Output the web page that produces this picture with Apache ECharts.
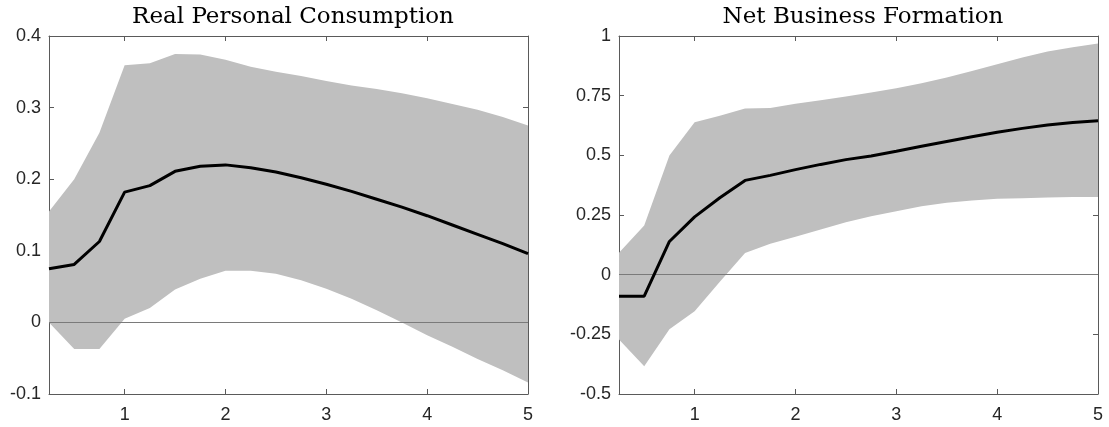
<!DOCTYPE html>
<html>
<head>
<meta charset="utf-8">
<script src="https://cdn.jsdelivr.net/npm/echarts@6/dist/echarts.min.js"></script>
<style>
  html, body { margin: 0; padding: 0; background: #fff; }
  #main { width: 1109px; height: 427px; }
</style>
</head>
<body>
<div id="main"></div>
<script>
// horizon in years (quarterly steps)
var horizon = [0.25, 0.5, 0.75, 1, 1.25, 1.5, 1.75, 2, 2.25, 2.5, 2.75, 3, 3.25, 3.5, 3.75, 4, 4.25, 4.5, 4.75, 5];
var xTicks = [1, 2, 3, 4, 5];

// Real Personal Consumption
var pceMean  = [0.075, 0.081, 0.113, 0.182, 0.191, 0.211, 0.218, 0.220, 0.216, 0.210, 0.202, 0.193, 0.183, 0.172, 0.161, 0.149, 0.136, 0.123, 0.110, 0.096];
var pceUpper = [0.155, 0.200, 0.265, 0.359, 0.362, 0.375, 0.374, 0.367, 0.357, 0.350, 0.344, 0.337, 0.331, 0.326, 0.320, 0.313, 0.305, 0.297, 0.287, 0.275];
var pceLower = [0.000, -0.037, -0.037, 0.005, 0.020, 0.046, 0.061, 0.072, 0.072, 0.068, 0.059, 0.047, 0.033, 0.017, 0.000, -0.018, -0.034, -0.051, -0.067, -0.084];

// Net Business Formation
var nbfMean  = [-0.090, -0.090, 0.139, 0.242, 0.322, 0.395, 0.416, 0.440, 0.462, 0.482, 0.497, 0.517, 0.538, 0.558, 0.578, 0.597, 0.613, 0.627, 0.638, 0.645];
var nbfUpper = [0.092, 0.206, 0.499, 0.639, 0.666, 0.696, 0.698, 0.716, 0.731, 0.747, 0.763, 0.781, 0.802, 0.826, 0.853, 0.882, 0.910, 0.935, 0.953, 0.969];
var nbfLower = [-0.272, -0.384, -0.229, -0.153, -0.030, 0.091, 0.130, 0.159, 0.189, 0.220, 0.245, 0.266, 0.287, 0.301, 0.311, 0.318, 0.320, 0.323, 0.325, 0.325];

var axisColor = '#5a5a5a';
var labelFont = { color: '#262626', fontSize: 18, fontFamily: 'Liberation Sans, Arial, sans-serif' };

function pairs(ys) {
    var out = [];
    for (var i = 0; i < horizon.length; i++) out.push([horizon[i], ys[i]]);
    return out;
}
function triples(lo, hi) {
    var out = [];
    for (var i = 0; i < horizon.length; i++) out.push([horizon[i], lo[i], hi[i]]);
    return out;
}

function xAxisFor(grid, pos) {
    return {
        type: 'value', gridIndex: grid, position: pos, min: 0.25, max: 5,
        axisLine: { show: true, onZero: false, lineStyle: { color: axisColor, width: 1 } },
        axisTick: { show: true, inside: true, length: 5, customValues: xTicks, lineStyle: { color: axisColor } },
        axisLabel: pos == 'bottom'
            ? { show: true, customValues: xTicks, margin: 12, color: labelFont.color, fontSize: labelFont.fontSize, fontFamily: labelFont.fontFamily }
            : { show: false },
        splitLine: { show: false }
    };
}
function yAxisFor(grid, pos, min, max, step) {
    return {
        type: 'value', gridIndex: grid, position: pos, min: min, max: max, interval: step,
        axisLine: { show: true, onZero: false, lineStyle: { color: axisColor, width: 1 } },
        axisTick: { show: true, inside: true, length: 5, lineStyle: { color: axisColor } },
        axisLabel: pos == 'left'
            ? { show: true, margin: 8, color: labelFont.color, fontSize: labelFont.fontSize, fontFamily: labelFont.fontFamily,
                formatter: function (v) { return String(+v.toFixed(2)); } }
            : { show: false },
        splitLine: { show: false }
    };
}

// shaded band: one polygon (upper edge then lower edge back) built with api.coord
function bandSeries(ax, lo, hi) {
    return {
        type: 'custom', xAxisIndex: ax, yAxisIndex: ax, data: triples(lo, hi),
        encode: { x: 0, y: [1, 2] }, silent: true, z: 2, clip: true,
        renderItem: function (params, api) {
            if (params.dataIndex !== 0) return null;
            var pts = [];
            for (var i = 0; i < horizon.length; i++) pts.push(api.coord([horizon[i], hi[i]]));
            for (var j = horizon.length - 1; j >= 0; j--) pts.push(api.coord([horizon[j], lo[j]]));
            return { type: 'polygon', shape: { points: pts }, style: { fill: '#bfbfbf', stroke: null } };
        }
    };
}
function meanSeries(ax, ys) {
    return {
        type: 'line', xAxisIndex: ax, yAxisIndex: ax, data: pairs(ys),
        symbol: 'none', lineStyle: { color: '#000', width: 3 }, z: 10, silent: true,
        markLine: {
            silent: true, symbol: ['none', 'none'], label: { show: false },
            lineStyle: { color: '#7a7a7a', width: 1, type: 'solid' },
            data: [{ yAxis: 0 }]
        }
    };
}

var titleStyle = { color: '#000', fontSize: 23, fontWeight: 'normal', fontFamily: 'DejaVu Serif, serif' };

var myChart = echarts.init(document.getElementById('main'));

var option = {
    animation: false,
    backgroundColor: '#fff',
    title: [
        { text: 'Real Personal Consumption', left: 288, top: 1, textAlign: 'center', textStyle: titleStyle },
        { text: 'Net Business Formation', left: 858, top: 1, textAlign: 'center', textStyle: titleStyle }
    ],
    grid: [
        { left: 49, top: 36, width: 479, height: 358 },
        { left: 619, top: 36, width: 479, height: 358 }
    ],
    xAxis: [
        xAxisFor(0, 'bottom'), xAxisFor(1, 'bottom'),
        xAxisFor(0, 'top'), xAxisFor(1, 'top')
    ],
    yAxis: [
        yAxisFor(0, 'left', -0.1, 0.4, 0.1), yAxisFor(1, 'left', -0.5, 1, 0.25),
        yAxisFor(0, 'right', -0.1, 0.4, 0.1), yAxisFor(1, 'right', -0.5, 1, 0.25)
    ],
    series: [
        bandSeries(0, pceLower, pceUpper),
        bandSeries(1, nbfLower, nbfUpper),
        meanSeries(0, pceMean),
        meanSeries(1, nbfMean)
    ]
};

myChart.setOption(option);
</script>
</body>
</html>
